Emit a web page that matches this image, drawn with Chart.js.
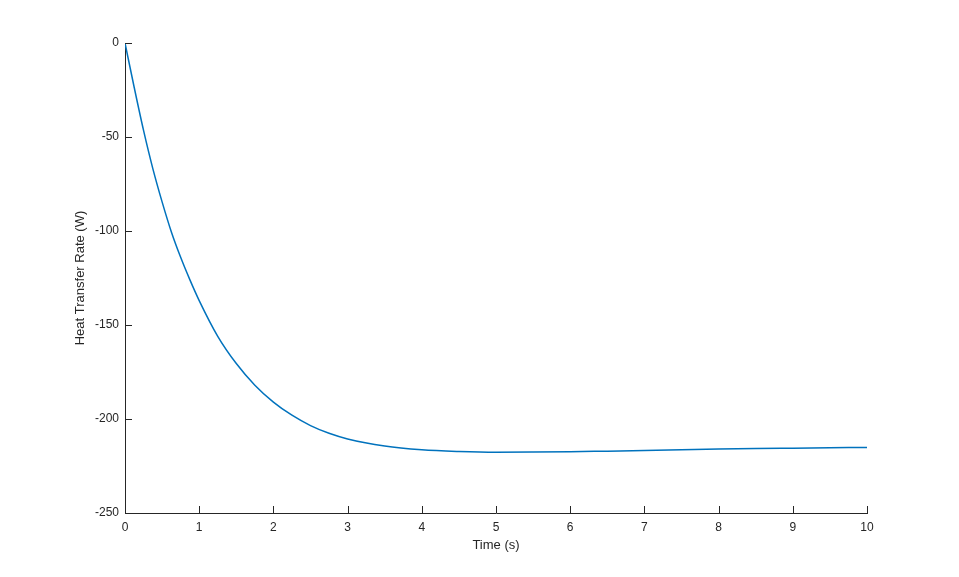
<!DOCTYPE html>
<html>
<head>
<meta charset="utf-8">
<script src="https://cdn.jsdelivr.net/npm/chart.js@4/dist/chart.umd.min.js"></script>
<style>
  body { margin: 0; background: #fff; }
  canvas { display: block; }
</style>
</head>
<body>
<canvas id="myChart" width="959" height="577"></canvas>
<script>
// values
var times = [0, 0.125, 0.25, 0.375, 0.5, 0.625, 0.75, 0.875, 1.0, 1.25, 1.5, 1.75, 2.0, 2.25, 2.5, 2.75, 3.0, 3.5, 4.0, 4.5, 5.0, 5.5, 6.0, 6.5, 7.0, 7.5, 8.0, 8.5, 9.0, 9.5, 10];
var heatRate = [0, -23.8, -46.5, -66.8, -84.5, -100.5, -114, -126, -137, -156, -170.5, -182, -191, -198, -203.5, -207.6, -210.6, -214.4, -216.4, -217.3, -217.7, -217.6, -217.4, -217.1, -216.8, -216.4, -216.0, -215.7, -215.5, -215.3, -215.1];
var xTicks = [0, 1, 2, 3, 4, 5, 6, 7, 8, 9, 10];
var yTicks = [-250, -200, -150, -100, -50, 0];

var axisColor = '#262626';
var points = times.map(function (t, i) { return { x: t, y: heatRate[i] }; });

// MATLAB style ticks pointing into the plot area
var innerTicks = {
    id: 'innerTicks',
    afterDraw: function (chart) {
        var ctx = chart.ctx;
        var xs = chart.scales.x, ys = chart.scales.y;
        var len = 7;
        ctx.save();
        ctx.strokeStyle = axisColor;
        ctx.lineWidth = 1;
        ctx.beginPath();
        xTicks.forEach(function (v) {
            var px = Math.round(xs.getPixelForValue(v)) + 0.5;
            ctx.moveTo(px, ys.bottom);
            ctx.lineTo(px, ys.bottom - len);
        });
        yTicks.forEach(function (v) {
            var py = Math.round(ys.getPixelForValue(v)) + 0.5;
            ctx.moveTo(xs.left, py);
            ctx.lineTo(xs.left + len, py);
        });
        ctx.stroke();
        ctx.restore();
    }
};

var ctx = document.getElementById('myChart').getContext('2d');
var chart = new Chart(ctx, {
    type: 'line',
    data: {
        datasets: [{
            data: points,
            borderColor: '#0072BD',
            borderWidth: 1.5,
            pointRadius: 0,
            fill: false,
            cubicInterpolationMode: 'monotone'
        }]
    },
    options: {
        responsive: false,
        animation: false,
        layout: { padding: { top: 43, right: 92, left: 0, bottom: 0 } },
        plugins: {
            legend: { display: false },
            tooltip: { enabled: false }
        },
        scales: {
            x: {
                type: 'linear',
                min: 0,
                max: 10,
                afterFit: function (s) { s.height = 64; },
                afterBuildTicks: function (s) { s.ticks = xTicks.map(function (v) { return { value: v }; }); },
                grid: { display: false, drawTicks: false },
                border: { display: true, color: axisColor, width: 1 },
                ticks: { color: axisColor, padding: 7, maxRotation: 0, font: { family: 'Arial, "Liberation Sans"', size: 12 } },
                title: {
                    display: true,
                    text: 'Time (s)',
                    color: axisColor,
                    font: { family: 'Arial, "Liberation Sans"', size: 13 },
                    padding: { top: 0, bottom: 24 }
                }
            },
            y: {
                type: 'linear',
                min: -250,
                max: 0,
                afterFit: function (s) { s.width = 125; },
                afterBuildTicks: function (s) { s.ticks = yTicks.map(function (v) { return { value: v }; }); },
                grid: { display: false, drawTicks: false },
                border: { display: true, color: axisColor, width: 1 },
                ticks: { color: axisColor, padding: 6, font: { family: 'Arial, "Liberation Sans"', size: 12 } },
                title: {
                    display: true,
                    text: 'Heat Transfer Rate (W)',
                    color: axisColor,
                    font: { family: 'Arial, "Liberation Sans"', size: 13 },
                    padding: { top: 73, bottom: 0 }
                }
            }
        }
    },
    plugins: [innerTicks]
});
</script>
</body>
</html>
